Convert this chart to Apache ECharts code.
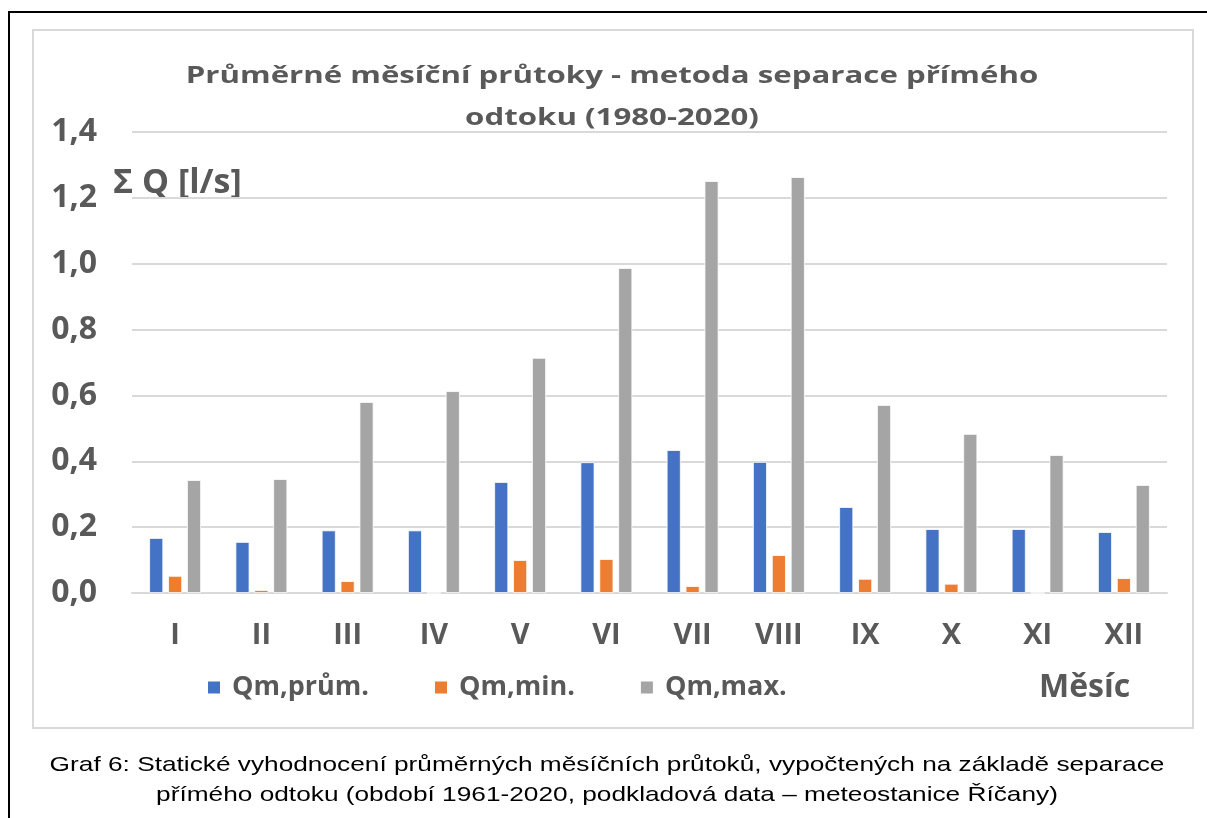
<!DOCTYPE html>
<html><head><meta charset="utf-8">
<script src="https://cdn.jsdelivr.net/npm/echarts@6/dist/echarts.min.js"></script>
<style>html,body{margin:0;padding:0;background:#fff;}#c{width:1207px;height:818px;}</style>
</head><body><div id="c"></div>
<script>
const categories = ['I','II','III','IV','V','VI','VII','VIII','IX','X','XI','XII'];
const qmPrum = [0.167,0.155,0.19,0.19,0.337,0.397,0.434,0.398,0.261,0.194,0.194,0.185];
const qmMin  = [0.052,0.009,0.036,0,0.10,0.103,0.021,0.115,0.043,0.028,0,0.045];
const qmMax  = [0.343,0.346,0.58,0.613,0.714,0.987,1.251,1.263,0.571,0.483,0.419,0.328];
const seriesNames = ['Qm,prům.','Qm,min.','Qm,max.'];
const titleLines = ['Průměrné měsíční průtoky - metoda separace přímého','odtoku (1980-2020)'];
const captionLines = ['Graf 6: Statické vyhodnocení průměrných měsíčních průtoků, vypočtených na základě separace','přímého odtoku (období 1961-2020, podkladová data – meteostanice Říčany)'];

const font = '"Open Sans", Lato, sans-serif';
const txt = '#595959';
const chart = echarts.init(document.getElementById('c'));
const mk = (name, data, color) => ({
  name, type:'bar', data, barWidth:14, barGap:'35%',
  itemStyle:{color, borderColor:'#fff', borderWidth:0.8}
});
chart.setOption({
  animation:false,
  legend:{
    data:seriesNames, left:201, top:669, itemWidth:14, itemHeight:14, itemGap:64,
    icon:'rect',
    textStyle:{fontFamily:font, fontWeight:'bold', fontSize:27, color:txt, padding:[0,0,0,6]}
  },
  grid:{left:132, right:40, top:132, bottom:225, containLabel:false},
  xAxis:{
    type:'category', data:categories,
    axisLine:{lineStyle:{color:'#d9d9d9', width:2}},
    axisTick:{show:false},
    axisLabel:{fontFamily:font, fontWeight:'bold', fontSize:29, color:txt, margin:28}
  },
  yAxis:{
    type:'value', min:0, max:1.4, interval:0.2,
    axisLine:{show:false}, axisTick:{show:false},
    splitLine:{lineStyle:{color:'#d9d9d9', width:2}},
    axisLabel:{fontFamily:font, fontWeight:'bold', fontSize:32, color:txt, margin:35,
      formatter:v=>v.toFixed(1).replace('.',',')}
  },
  series:[mk(seriesNames[0],qmPrum,'#4472C4'), mk(seriesNames[1],qmMin,'#ED7D31'), mk(seriesNames[2],qmMax,'#A5A5A5')],
  graphic:[
    {type:'rect', shape:{x:33,y:30,width:1160,height:698}, style:{fill:'none', stroke:'#d9d9d9', lineWidth:2}, z:-1},
    {type:'rect', shape:{x:9,y:12,width:1300,height:900}, style:{fill:'none', stroke:'#000', lineWidth:2}, z:-1},
    {type:'text', x:612, y:76, scaleX:1.3, style:{text:titleLines[0], fontFamily:font, fontWeight:'bold', fontSize:24, fill:txt, align:'center', verticalAlign:'middle'}},
    {type:'text', x:612, y:118, scaleX:1.3, style:{text:titleLines[1], fontFamily:font, fontWeight:'bold', fontSize:24, fill:txt, align:'center', verticalAlign:'middle'}},
    {type:'text', x:113, y:183, style:{text:'Σ Q [l/s]', fontFamily:font, fontWeight:'bold', fontSize:34, fill:txt, verticalAlign:'middle'}},
    {type:'text', x:1039, y:688, style:{text:'Měsíc', fontFamily:font, fontWeight:'bold', fontSize:32, fill:txt, verticalAlign:'middle'}},
    {type:'text', x:607, y:765, scaleX:1.25, style:{text:captionLines[0], fontFamily:'"Liberation Sans", Arial, sans-serif', fontSize:21, fill:'#000', align:'center', verticalAlign:'middle'}},
    {type:'text', x:607, y:795, scaleX:1.25, style:{text:captionLines[1], fontFamily:'"Liberation Sans", Arial, sans-serif', fontSize:21, fill:'#000', align:'center', verticalAlign:'middle'}}
  ]
});
</script></body></html>
